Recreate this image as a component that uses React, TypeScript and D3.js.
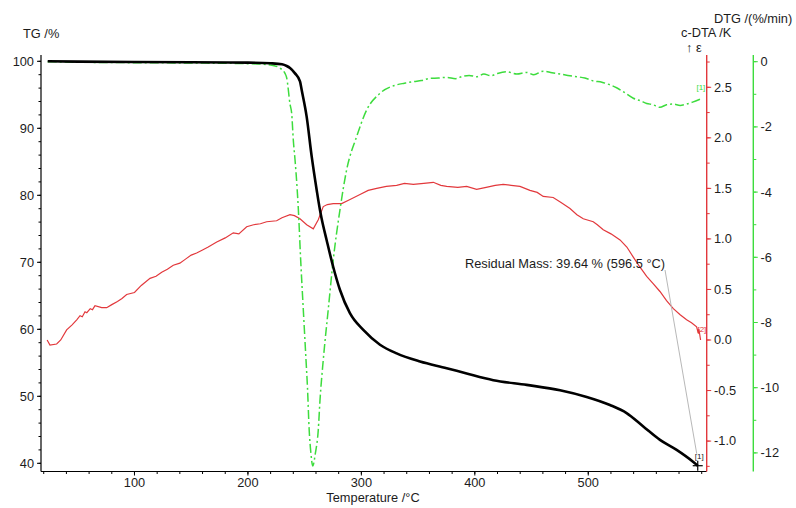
import React from "react";
import * as d3 from "d3";

// ---------- data ----------
const tgTemp = [23.5, 50, 100, 150, 200, 220, 230, 234.2, 237.1, 241.5, 245.9, 247.4, 251.8, 256.2, 260.6, 263.5, 265, 269.4, 275.2, 281.1, 289.9, 301.7, 316.4, 331.1, 351.7, 375.2, 392.8, 416.3, 445.7, 475.1, 498.6, 519.1, 533.8, 548.5, 563.2, 577.9, 592.6, 596.5];
const tgValue = [100, 99.95, 99.9, 99.85, 99.8, 99.7, 99.55, 99.3, 99.0, 98.2, 97.0, 95.7, 91.7, 85.8, 80.8, 77.8, 76.5, 73.3, 69.3, 65.9, 62.4, 59.9, 57.7, 56.4, 55.2, 54.2, 53.4, 52.4, 51.7, 50.9, 49.9, 48.7, 47.5, 45.5, 43.5, 42.0, 40.2, 39.64];

const dtgTemp = [23.5, 60, 100, 150, 200, 220, 228.3, 232.7, 234.2, 237.1, 238.6, 240, 241.5, 242.4, 244.4, 246.5, 248.8, 251.2, 252.5, 254, 255.5, 257.1, 259.5, 262, 263.5, 266.4, 270.8, 275.2, 281.1, 287, 295.8, 304.7, 316.4, 331.1, 338, 345.8, 353, 360.5, 368, 375.2, 383, 389, 395, 401.6, 408, 414, 420, 428.1, 437, 445.7, 452, 460.3, 468, 475.1, 482, 489.8, 497, 504.4, 512, 519.1, 525, 530.8, 539.7, 546, 551.5, 557, 563.2, 569, 575, 581, 586.7, 592, 598.5];
const dtgValue = [0, -0.02, -0.03, -0.04, -0.06, -0.1, -0.2, -0.36, -0.5, -1.3, -1.6, -2.4, -3.0, -3.4, -4.5, -6.08, -7.6, -9.15, -10.0, -11.3, -12.0, -12.4, -12.0, -11.3, -10.4, -9.15, -7.6, -6.08, -4.55, -3.32, -2.3, -1.48, -0.97, -0.71, -0.66, -0.61, -0.58, -0.51, -0.5, -0.48, -0.52, -0.45, -0.42, -0.46, -0.38, -0.43, -0.36, -0.31, -0.38, -0.33, -0.4, -0.29, -0.34, -0.38, -0.42, -0.46, -0.5, -0.59, -0.63, -0.71, -0.8, -0.92, -1.12, -1.2, -1.28, -1.32, -1.4, -1.32, -1.3, -1.34, -1.3, -1.24, -1.15];

const dtaTemp = [23.0, 25.5, 31.4, 35, 40.2, 45, 49.1, 52, 54, 56.4, 58, 61, 63, 65.2, 71.1, 75.5, 80, 85, 89, 93.1, 100, 106, 113.7, 119, 124, 129, 134.2, 140, 145, 150, 154.8, 160, 165, 172.5, 180, 187.1, 192, 198.9, 205, 211, 216.5, 225.3, 230, 237.1, 241, 245.9, 251.8, 257.6, 262, 266.4, 270, 275.2, 282.6, 290, 298.8, 306, 313.5, 322, 331.1, 338, 345.8, 355, 363.4, 370, 375.2, 385, 392.8, 401.6, 410, 418, 425, 432, 439.8, 448.6, 455, 460.3, 469.1, 476, 483.9, 490, 495.6, 504.4, 508, 513.2, 520, 528, 534, 539.7, 545, 551.5, 557, 563.2, 569, 575, 581, 586.7, 591, 595.5, 596.9, 597.5, 599];
const dtaValue = [0.0, -0.05, -0.04, 0.0, 0.10, 0.15, 0.20, 0.24, 0.23, 0.28, 0.27, 0.31, 0.30, 0.34, 0.32, 0.32, 0.35, 0.38, 0.41, 0.45, 0.47, 0.54, 0.61, 0.63, 0.67, 0.7, 0.74, 0.76, 0.80, 0.84, 0.86, 0.89, 0.92, 0.97, 1.01, 1.06, 1.05, 1.12, 1.14, 1.15, 1.17, 1.18, 1.21, 1.24, 1.23, 1.20, 1.14, 1.10, 1.19, 1.32, 1.34, 1.35, 1.35, 1.39, 1.44, 1.48, 1.50, 1.52, 1.53, 1.55, 1.54, 1.55, 1.56, 1.53, 1.52, 1.51, 1.52, 1.49, 1.51, 1.53, 1.54, 1.53, 1.52, 1.48, 1.46, 1.42, 1.41, 1.36, 1.30, 1.24, 1.20, 1.17, 1.14, 1.09, 1.05, 0.99, 0.92, 0.82, 0.73, 0.63, 0.56, 0.48, 0.39, 0.31, 0.25, 0.20, 0.17, 0.13, 0.07, 0.11, 0.0];

const tempTicks = [100, 200, 300, 400, 500];
const tgTicks = [40, 50, 60, 70, 80, 90, 100];
const dtaTicks = [-1.0, -0.5, 0.0, 0.5, 1.0, 1.5, 2.0, 2.5];
const dtgTicks = [-12, -10, -8, -6, -4, -2, 0];

const residualTemp = 596.5;
const residualMass = 39.64;
const residualLabel = "Residual Mass: 39.64 % (596.5 °C)";

// ---------- layout ----------
const W = 796;
const H = 508;
const left = 41;
const right = 706.7;
const top = 55;
const bottom = 471.5;
const greenAxisX = 753.3;

const FONT = "'Liberation Sans', Arial, Helvetica, sans-serif";
const FS = 12.8;
const TXT = "#1c1c1c";
const RED = "#e2383c";
const GREEN = "#3ddc3d";

export default function App() {
  const x = d3.scaleLinear().domain([17.6, 604.4]).range([left, right]);
  const yTG = d3.scaleLinear().domain([40, 100]).range([463.3, 61.3]);
  const yDTA = d3.scaleLinear().domain([0, 2.5]).range([340, 87.3]);
  const yDTG = d3.scaleLinear().domain([-12, 0]).range([452.9, 61.7]);

  const tempMinor = d3.range(20, 601, 20);
  const tgMinor = d3.range(40, 100.1, 2);
  const dtaMinor = d3.range(-1.25, 2.76, 0.25);
  const dtgMinor = d3.range(-12, 0.1, 1);

  const tgPath = d3.line<number>().x((_, i) => x(tgTemp[i])).y((d) => yTG(d)).curve(d3.curveMonotoneX)(tgValue) || "";
  const dtgPath = d3.line<number>().x((_, i) => x(dtgTemp[i])).y((d) => yDTG(d)).curve(d3.curveMonotoneX)(dtgValue) || "";
  const dtaPath = d3.line<number>().x((_, i) => x(dtaTemp[i])).y((d) => yDTA(d)).curve(d3.curveLinear)(dtaValue) || "";

  const mx = x(residualTemp);
  const my = yTG(residualMass);

  return (
    <svg width={W} height={H} style={{ position: "absolute", left: 0, top: 0, background: "#fff" }} fontFamily={FONT}>
      <rect x={0} y={0} width={W} height={H} fill="#fff" />

      {/* curves */}
      <path d={dtaPath} fill="none" stroke={RED} strokeWidth={1.2} />
      <path d={dtgPath} fill="none" stroke={GREEN} strokeWidth={1.5} strokeDasharray="9,3,2,3" />
      <path d={tgPath} fill="none" stroke="#000" strokeWidth={2.6} />

      {/* annotation */}
      <line x1={665} y1={270} x2={mx - 1} y2={my - 12} stroke="#b8b8b8" strokeWidth={1} />
      <text x={465} y={268} fontSize={FS} fill={TXT}>{residualLabel}</text>
      <line x1={mx - 5} y1={my} x2={mx + 5} y2={my} stroke="#000" strokeWidth={1.2} />
      <line x1={mx} y1={my - 5} x2={mx} y2={my + 5} stroke="#000" strokeWidth={1.2} />
      <text x={mx - 3} y={my - 7} fontSize={8} fill="#222">[1]</text>
      <text x={x(598) - 3} y={yDTA(2.5) + 3} fontSize={8} fill={GREEN}>[1]</text>
      <text x={x(598) - 2} y={yDTA(0.11) + 3} fontSize={8} fill={RED}>[2]</text>

      {/* left TG axis */}
      <line x1={left} y1={top} x2={left} y2={bottom} stroke="#000" strokeWidth={1.2} />
      {tgMinor.map((v) => (
        <line key={"tgm" + v} x1={left - 2.5} x2={left} y1={yTG(v)} y2={yTG(v)} stroke="#000" />
      ))}
      {tgTicks.map((v) => (
        <g key={"tg" + v}>
          <line x1={left - 4} x2={left} y1={yTG(v)} y2={yTG(v)} stroke="#000" />
          <text x={left - 7} y={yTG(v) + 4.4} fontSize={FS} textAnchor="end" fill={TXT}>{v}</text>
        </g>
      ))}
      <text x={23} y={38} fontSize={FS} fill={TXT}>TG /%</text>

      {/* bottom temperature axis */}
      <line x1={left} y1={bottom} x2={right} y2={bottom} stroke="#000" strokeWidth={1.2} />
      {tempMinor.map((v) => (
        <line key={"tm" + v} x1={x(v)} x2={x(v)} y1={bottom} y2={bottom + 2.5} stroke="#000" />
      ))}
      {tempTicks.map((v) => (
        <g key={"t" + v}>
          <line x1={x(v)} x2={x(v)} y1={bottom} y2={bottom + 4} stroke="#000" />
          <text x={x(v)} y={486.5} fontSize={FS} textAnchor="middle" fill={TXT}>{v}</text>
        </g>
      ))}
      <text x={373} y={501.5} fontSize={FS} textAnchor="middle" fill={TXT}>Temperature /°C</text>

      {/* red c-DTA axis */}
      <line x1={right} y1={top} x2={right} y2={bottom} stroke={RED} strokeWidth={1.4} />
      {dtaMinor.map((v) => (
        <line key={"dm" + v} x1={right} x2={right + 3} y1={yDTA(v)} y2={yDTA(v)} stroke={RED} />
      ))}
      {dtaTicks.map((v) => (
        <g key={"d" + v}>
          <line x1={right} x2={right + 4.5} y1={yDTA(v)} y2={yDTA(v)} stroke={RED} />
          <text x={714} y={yDTA(v) + 4.4} fontSize={FS} fill={TXT}>{v.toFixed(1)}</text>
        </g>
      ))}
      <text x={681} y={37} fontSize={FS} fill={TXT}>c-DTA /K</text>
      <text x={686} y={52} fontSize={FS} fill={TXT}>↑ ε</text>

      {/* green DTG axis */}
      <line x1={greenAxisX} y1={top} x2={greenAxisX} y2={bottom} stroke={GREEN} strokeWidth={1.4} />
      {dtgMinor.map((v) => (
        <line key={"gm" + v} x1={greenAxisX} x2={greenAxisX + 3} y1={yDTG(v)} y2={yDTG(v)} stroke={GREEN} />
      ))}
      {dtgTicks.map((v) => (
        <g key={"g" + v}>
          <line x1={greenAxisX} x2={greenAxisX + 4.5} y1={yDTG(v)} y2={yDTG(v)} stroke={GREEN} />
          <text x={760.5} y={yDTG(v) + 4.4} fontSize={FS} fill={TXT}>{String(v)}</text>
        </g>
      ))}
      <text x={714} y={23} fontSize={FS} fill={TXT}>DTG /(%/min)</text>
    </svg>
  );
}
